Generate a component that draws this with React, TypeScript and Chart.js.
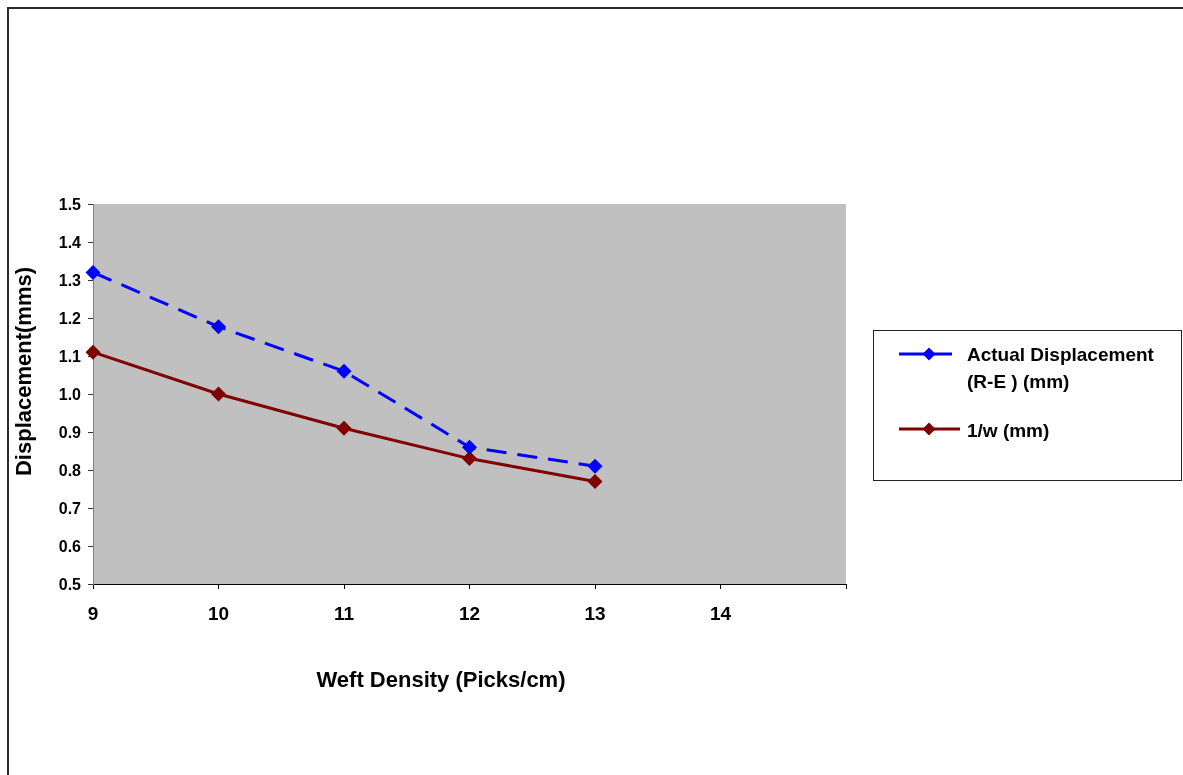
import React, { useEffect, useRef } from "react";
import { Chart, registerables } from "chart.js";

Chart.register(...registerables);

// ---- data ----
const weftDensity = [9, 10, 11, 12, 13];
const actualDisplacement = [1.32, 1.177, 1.06, 0.86, 0.81];
const inverseW = [1.11, 1.0, 0.91, 0.83, 0.77];
const seriesNames = ["Actual Displacement (R-E ) (mm)", "1/w (mm)"];
const legendTextLines = [["Actual Displacement", "(R-E ) (mm)"], ["1/w (mm)"]];
const xTitleText = "Weft Density (Picks/cm)";
const yTitleText = "Displacement(mms)";
const xRange = [9, 15];
const yRange = [0.5, 1.5];

const FONT = "'Liberation Sans', Arial, sans-serif";
const BLUE = "#0000FF";
const RED = "#800000";

const W = 1174;
const H = 766;

function diamond(ctx: CanvasRenderingContext2D, x: number, y: number, r: number, color: string) {
  ctx.save();
  ctx.setLineDash([]);
  ctx.fillStyle = color;
  ctx.beginPath();
  ctx.moveTo(x, y - r);
  ctx.lineTo(x + r, y);
  ctx.lineTo(x, y + r);
  ctx.lineTo(x - r, y);
  ctx.closePath();
  ctx.fill();
  ctx.restore();
}

const decorPlugin = {
  id: "decor",
  beforeDraw(chart: any) {
    const { ctx, chartArea } = chart;
    ctx.save();
    ctx.fillStyle = "#FFFFFF";
    ctx.fillRect(0, 0, chart.width, chart.height);
    ctx.fillStyle = "#C0C0C0";
    ctx.fillRect(chartArea.left, chartArea.top, chartArea.right - chartArea.left, chartArea.bottom - chartArea.top);
    ctx.restore();
  },
  afterDraw(chart: any) {
    const { ctx } = chart;
    ctx.save();
    ctx.fillStyle = "#000";
    // x title
    ctx.font = `bold 22px ${FONT}`;
    ctx.textAlign = "center";
    ctx.textBaseline = "alphabetic";
    ctx.fillText(xTitleText, 432, 678);
    // y title
    ctx.save();
    ctx.translate(22, 362.5);
    ctx.rotate(-Math.PI / 2);
    ctx.fillText(yTitleText, 0, 0);
    ctx.restore();

    // legend box
    ctx.strokeStyle = "#222";
    ctx.lineWidth = 1;
    ctx.strokeRect(864.5, 321.5, 308, 150);

    const items = [
      { ds: chart.data.datasets[0], lineY: 345, textYs: [352, 379], x2: 943 },
      { ds: chart.data.datasets[1], lineY: 420, textYs: [428], x2: 951 },
    ];
    items.forEach((it, i) => {
      ctx.save();
      ctx.strokeStyle = it.ds.borderColor;
      ctx.lineWidth = it.ds.borderWidth;
      ctx.beginPath();
      ctx.moveTo(890, it.lineY);
      ctx.lineTo(it.x2, it.lineY);
      ctx.stroke();
      ctx.restore();
      diamond(ctx, 920, it.lineY, 6.5, it.ds.pointBackgroundColor);
      ctx.fillStyle = "#000";
      ctx.font = `bold 19px ${FONT}`;
      ctx.textAlign = "left";
      legendTextLines[i].forEach((t, j) => ctx.fillText(t, 958, it.textYs[j]));
    });
    ctx.restore();
  },
};

export default function App() {
  const ref = useRef<HTMLCanvasElement>(null);
  useEffect(() => {
    if (!ref.current) return;
    const chart = new Chart(ref.current, {
      type: "line",
      data: {
        datasets: [
          {
            label: seriesNames[0],
            data: weftDensity.map((x, i) => ({ x, y: actualDisplacement[i] })),
            borderColor: BLUE,
            backgroundColor: BLUE,
            borderWidth: 3,
            borderDash: [20, 11],
            pointStyle: "rectRot",
            pointRadius: 7.5,
            pointBackgroundColor: BLUE,
            pointBorderColor: BLUE,
            pointBorderWidth: 0,
            tension: 0,
            clip: false as any,
          },
          {
            label: seriesNames[1],
            data: weftDensity.map((x, i) => ({ x, y: inverseW[i] })),
            borderColor: RED,
            backgroundColor: RED,
            borderWidth: 3,
            pointStyle: "rectRot",
            pointRadius: 7.5,
            pointBackgroundColor: RED,
            pointBorderColor: RED,
            pointBorderWidth: 0,
            tension: 0,
            clip: false as any,
          },
        ],
      },
      options: {
        animation: false,
        responsive: false,
        devicePixelRatio: 1,
        layout: { padding: { left: 20, top: 195, right: 337, bottom: 131 } },
        plugins: { legend: { display: false }, tooltip: { enabled: false } },
        scales: {
          x: {
            type: "linear",
            min: xRange[0],
            max: xRange[1],
            afterFit: (s: any) => { s.height = 60; },
            ticks: {
              stepSize: 1,
              color: "#000",
              padding: 14,
              font: { family: FONT, size: 19, weight: "bold" },
              callback: (v: any) => (v === xRange[1] ? "" : String(v)),
              maxRotation: 0,
            },
            grid: { drawOnChartArea: false, drawTicks: true, tickLength: 5, color: "#000" },
            border: { color: "#000", width: 1 },
          },
          y: {
            type: "linear",
            min: yRange[0],
            max: yRange[1],
            afterFit: (s: any) => { s.width = 64; },
            ticks: {
              stepSize: 0.1,
              color: "#000",
              padding: 7,
              labelOffset: 2,
              font: { family: FONT, size: 16, weight: "bold" },
              callback: (v: any) => Number(v).toFixed(1),
            },
            grid: { drawOnChartArea: false, drawTicks: true, tickLength: 5, color: "#333" },
            border: { color: "#808080", width: 1 },
          },
        },
      },
      plugins: [decorPlugin],
    });
    return () => chart.destroy();
  }, []);

  return (
    <div
      style={{
        position: "fixed",
        left: 7,
        top: 7,
        width: 1400,
        height: 1000,
        borderLeft: "2px solid #2b2b2b",
        borderTop: "2px solid #2b2b2b",
        background: "#fff",
      }}
    >
      <canvas ref={ref} width={W} height={H} style={{ display: "block", width: W, height: H }} />
    </div>
  );
}
